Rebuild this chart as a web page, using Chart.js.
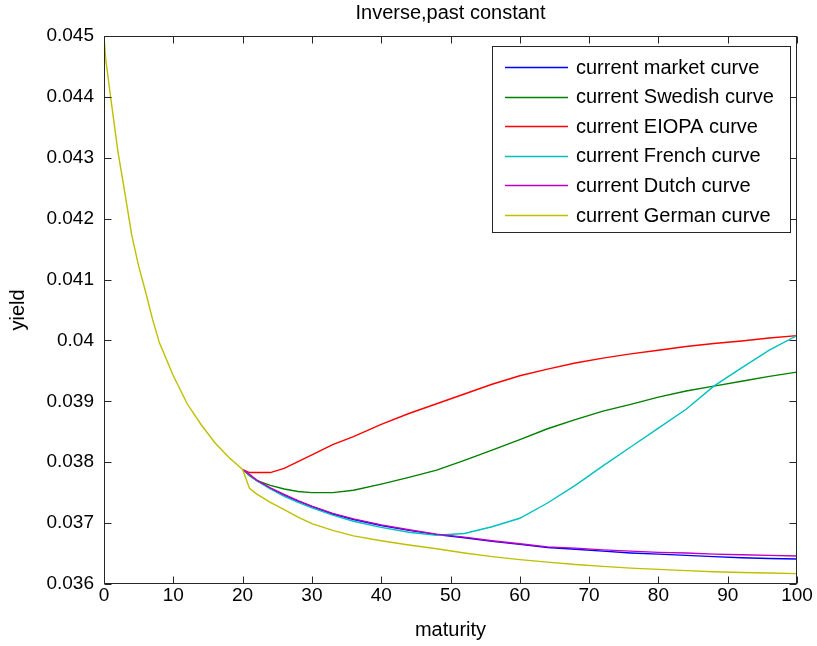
<!DOCTYPE html>
<html>
<head>
<meta charset="utf-8">
<script src="https://cdn.jsdelivr.net/npm/chart.js@4.4.0/dist/chart.umd.min.js"></script>
<style>
  html, body { margin: 0; padding: 0; background: #fff; }
  #wrap { width: 817px; height: 646px; }
</style>
</head>
<body>
<div id="wrap"><canvas id="yieldChart"></canvas></div>
<script>
// past part (shared by every curve, drawn with the German one on top)
const pastMaturity = [0, 0.25, 1, 2, 3, 4, 5, 6, 7, 8, 10, 12, 14, 16, 18, 20];
const pastYield = [0.04500, 0.04462, 0.04396, 0.04311, 0.04243, 0.04173, 0.04122, 0.04080,
                   0.04035, 0.03996, 0.03942, 0.03896, 0.03862, 0.03832, 0.03808, 0.03788];

// extrapolated part
const maturity = [20, 21, 22, 24, 26, 28, 30, 33, 36, 40, 44, 48, 52, 56, 60, 64, 68, 72, 76, 80, 84, 88, 92, 96, 100];
const marketCurve = [0.03788, 0.03779, 0.03770, 0.03757, 0.03746, 0.03736, 0.03727, 0.03715, 0.03706, 0.03696,
                     0.03688, 0.03681, 0.03676, 0.03670, 0.03665, 0.03660, 0.03657, 0.03654, 0.03651, 0.03649,
                     0.03647, 0.03645, 0.03643, 0.03642, 0.03641];
const swedishCurve = [0.03788, 0.03778, 0.03770, 0.03762, 0.03756, 0.03752, 0.03750, 0.03750, 0.03754, 0.03764,
                      0.03775, 0.03787, 0.03803, 0.03820, 0.03837, 0.03855, 0.03870, 0.03884, 0.03895, 0.03907,
                      0.03917, 0.03925, 0.03933, 0.03941, 0.03948];
const eiopaCurve = [0.03788, 0.03783, 0.03783, 0.03783, 0.03790, 0.03801, 0.03812, 0.03829, 0.03842, 0.03862,
                    0.03880, 0.03896, 0.03912, 0.03928, 0.03942, 0.03953, 0.03963, 0.03971, 0.03978, 0.03984,
                    0.03990, 0.03995, 0.03999, 0.04004, 0.04008];
const frenchCurve = [0.03788, 0.03779, 0.03770, 0.03756, 0.03744, 0.03734, 0.03725, 0.03713, 0.03703, 0.03693,
                     0.03685, 0.03680, 0.03683, 0.03694, 0.03708, 0.03733, 0.03762, 0.03794, 0.03825, 0.03856,
                     0.03887, 0.03925, 0.03955, 0.03984, 0.04008];
const dutchCurve = [0.03788, 0.03780, 0.03771, 0.03758, 0.03747, 0.03737, 0.03728, 0.03716, 0.03707, 0.03697,
                    0.03689, 0.03682, 0.03677, 0.03671, 0.03666, 0.03661, 0.03659, 0.03656, 0.03654, 0.03652,
                    0.03651, 0.03649, 0.03648, 0.03647, 0.03646];
const germanCurve = [0.03788, 0.03757, 0.03748, 0.03734, 0.03722, 0.03710, 0.03699, 0.03688, 0.03679, 0.03671,
                     0.03664, 0.03658, 0.03651, 0.03645, 0.03640, 0.03636, 0.03632, 0.03629, 0.03626, 0.03624,
                     0.03622, 0.03620, 0.03619, 0.03618, 0.03617];

const seriesNames = ['current market curve', 'current Swedish curve', 'current EIOPA curve',
                     'current French curve', 'current Dutch curve', 'current German curve'];
const seriesColors = ['#0000ff', '#008000', '#ff0000', '#00bfbf', '#bf00bf', '#bfbf00'];

const yTicks = [0.036, 0.037, 0.038, 0.039, 0.040, 0.041, 0.042, 0.043, 0.044, 0.045];
const xTicks = [0, 10, 20, 30, 40, 50, 60, 70, 80, 90, 100];

const FONT = '"Liberation Sans", Arial, sans-serif';

function toPoints(xs, ys) {
  return xs.map((x, i) => ({ x: x, y: ys[i] }));
}

const germanFull = toPoints(pastMaturity, pastYield).concat(toPoints(maturity, germanCurve).slice(1));
const allSeries = [marketCurve, swedishCurve, eiopaCurve, frenchCurve, dutchCurve];

const datasets = allSeries.map((s, i) => ({
  label: seriesNames[i],
  data: toPoints(maturity, s),
  borderColor: seriesColors[i],
  order: 6 - i
}));
datasets.push({
  label: seriesNames[5],
  data: germanFull,
  borderColor: seriesColors[5],
  order: 0
});
datasets.forEach(d => {
  d.borderWidth = 1.4;
  d.pointRadius = 0;
  d.fill = false;
  d.tension = 0;
});

// axes box, inward ticks, title and legend drawn like the matlab figure
const matlabFrame = {
  id: 'matlabFrame',
  afterDraw(chart) {
    const { ctx, chartArea: a, scales } = chart;
    ctx.save();
    ctx.strokeStyle = '#262626';
    ctx.lineWidth = 1;
    const L = Math.round(a.left) + 0.5, R = Math.round(a.right) - 0.5;
    const T = Math.round(a.top) + 0.5, B = Math.round(a.bottom) - 0.5;
    ctx.strokeRect(L, T, R - L, B - T);
    const tl = 7;
    ctx.beginPath();
    xTicks.forEach(v => {
      const px = Math.round(scales.x.getPixelForValue(v)) + 0.5;
      ctx.moveTo(px, B); ctx.lineTo(px, B - tl);
      ctx.moveTo(px, T); ctx.lineTo(px, T + tl);
    });
    yTicks.forEach(v => {
      const py = Math.round(scales.y.getPixelForValue(v)) + 0.5;
      ctx.moveTo(L, py); ctx.lineTo(L + tl, py);
      ctx.moveTo(R, py); ctx.lineTo(R - tl, py);
    });
    ctx.stroke();

    // title
    ctx.fillStyle = '#000';
    ctx.font = '20px ' + FONT;
    ctx.textAlign = 'center';
    ctx.textBaseline = 'middle';
    ctx.fillText('Inverse,past constant', (a.left + a.right) / 2, 13);

    // legend
    const bx = 492.5, by = 46.5, bw = 298, bh = 186;
    ctx.fillStyle = '#fff';
    ctx.fillRect(bx, by, bw, bh);
    ctx.strokeStyle = '#262626';
    ctx.strokeRect(bx, by, bw, bh);
    ctx.font = '20px ' + FONT;
    ctx.textAlign = 'left';
    chart.data.datasets.forEach((d, i) => {
      const y = 67 + i * 29.6;
      ctx.strokeStyle = d.borderColor;
      ctx.lineWidth = 1.4;
      ctx.beginPath();
      ctx.moveTo(505, Math.round(y) + 0.5);
      ctx.lineTo(568, Math.round(y) + 0.5);
      ctx.stroke();
      ctx.fillStyle = '#000';
      ctx.fillText(d.label, 576, y + 1);
    });
    ctx.restore();
  }
};

const ctx = document.getElementById('yieldChart').getContext('2d');
new Chart(ctx, {
  type: 'line',
  data: { datasets: datasets },
  plugins: [matlabFrame],
  options: {
    responsive: true,
    maintainAspectRatio: false,
    animation: false,
    layout: { padding: { top: 36, right: 20, left: 0, bottom: 0 } },
    plugins: {
      legend: { display: false },
      title: { display: false },
      tooltip: { enabled: false }
    },
    scales: {
      x: {
        type: 'linear',
        min: 0,
        max: 100,
        grid: { display: false, drawTicks: false },
        border: { display: false },
        afterBuildTicks: s => { s.ticks = xTicks.map(v => ({ value: v })); },
        ticks: {
          color: '#000',
          padding: 0,
          font: { size: 19, family: FONT },
          maxRotation: 0
        },
        title: {
          display: true,
          text: 'maturity',
          color: '#000',
          padding: { top: 0, bottom: 4 },
          font: { size: 20, family: FONT }
        },
        afterFit: s => { s.height = 62; }
      },
      y: {
        type: 'linear',
        min: 0.036,
        max: 0.045,
        grid: { display: false, drawTicks: false },
        border: { display: false },
        afterBuildTicks: s => { s.ticks = yTicks.map(v => ({ value: v })); },
        ticks: {
          color: '#000',
          padding: 10,
          font: { size: 19, family: FONT },
          callback: v => String(parseFloat(v.toFixed(3)))
        },
        title: {
          display: true,
          text: 'yield',
          color: '#000',
          padding: { top: 6, bottom: 0 },
          font: { size: 20, family: FONT }
        },
        afterFit: s => { s.width = 104; }
      }
    }
  }
});
</script>
</body>
</html>
